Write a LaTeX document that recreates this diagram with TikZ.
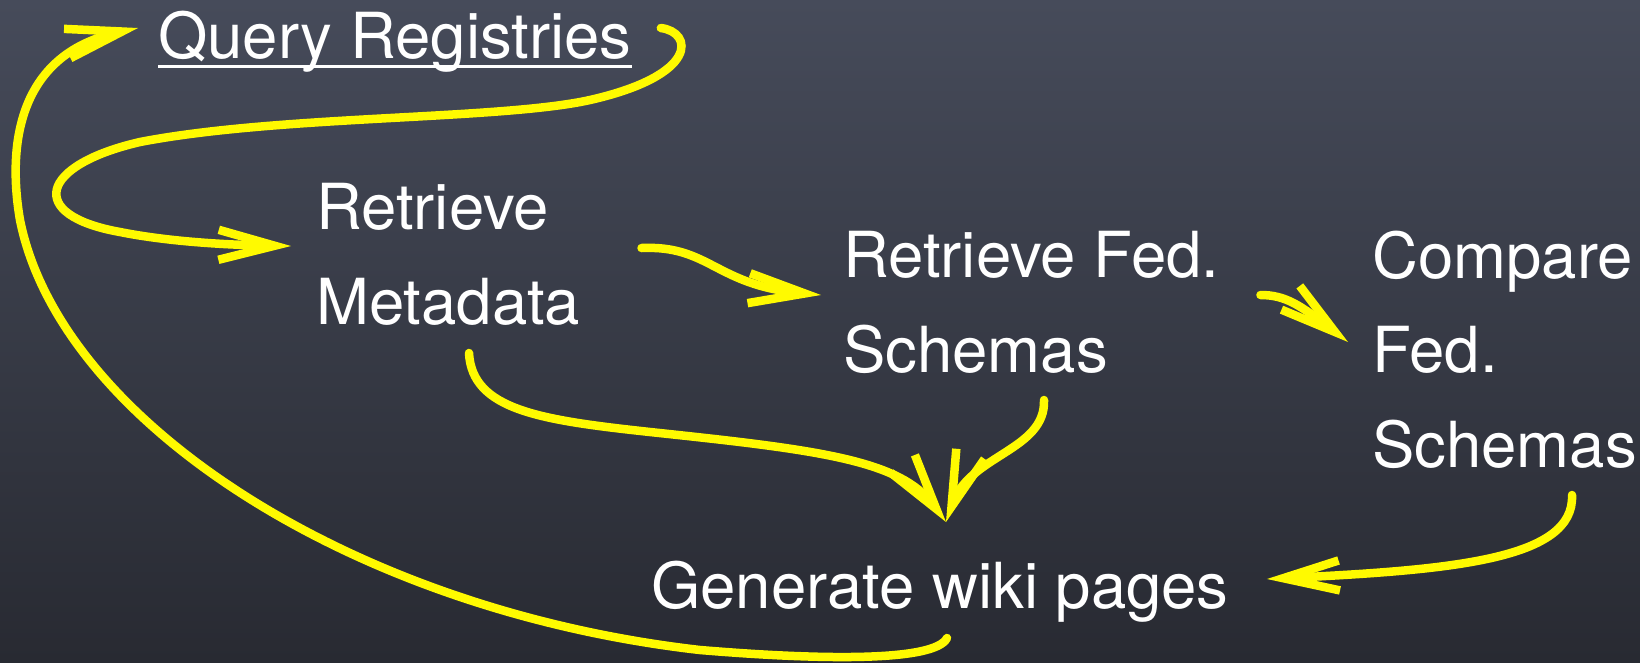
\documentclass[tikz,border=0pt]{standalone}
\usepackage{fontspec}
\setmainfont{TeX Gyre Heros}
\usetikzlibrary{arrows.meta}

\definecolor{boardtop}{RGB}{70,75,90}
\definecolor{boardbot}{RGB}{40,42,50}
\definecolor{chalk}{RGB}{255,250,0}

\begin{document}
\begin{tikzpicture}[x=1pt, y=-1pt, >={Straight Barb[length=56pt,width=30pt]},
  txt/.style={text=white, inner sep=0pt, anchor=base west, align=left,
    font=\fontsize{63.5}{94.5}\selectfont},
  arr/.style={->, draw=chalk, line width=8.5pt, line cap=round}]

% board
\shade[top color=boardtop, bottom color=boardbot] (0,0) rectangle (1640,662);
\useasboundingbox (0,0) rectangle (1640,662);

% base = last line
\node[txt] (reg)  at (158,58)   {Query Registries};
\node[txt] (meta) at (316,324)  {Retrieve\\Metadata};
\node[txt] (fed)  at (843,372)  {Retrieve Fed.\\Schemas};
\node[txt] (cmp)  at (1372,467) {Compare\\Fed.\\Schemas};
\node[txt] (wiki) at (651,608)  {Generate wiki pages};

\draw[white, line width=3.5pt] ([yshift=-8.5pt]reg.base west) -- ([yshift=-8.5pt]reg.base east);

% loops
\draw[arr] ([shift={(29,-30)}]reg.base east) .. controls +(32,4) and (700,75) .. (590,100)
  .. controls (500,120) and (280,115) .. (140,142)
  .. controls (40,165) and (25,215) .. (120,232)
  .. controls (170,242) and (230,245) .. ([shift={(-25,-78)}]meta.base west);
\draw[arr] ([shift={(61,-76)}]meta.base east) .. controls +(68,-3) and (715,285) .. ([shift={(-22,-77)}]fed.base west);
\draw[arr] ([shift={(153,29)}]meta.base west) .. controls +(3,57) and (540,420) .. (650,432)
  .. controls (820,450) and (900,460) .. ([shift={(295,-86)}]wiki.base west);
\draw[arr] ([shift={(201,28)}]fed.base west) .. controls +(2,50) and +(24,-67) .. ([shift={(295,-86)}]wiki.base west);
\draw[arr] ([shift={(41,-77)}]fed.base east) .. controls +(25,0) and +(-48,-37) .. ([shift={(-24,-125)}]cmp.base west);
\draw[arr] ([shift={(200,28)}]cmp.base west) .. controls +(3,65) and +(183,-9) .. ([shift={(38,-29)}]wiki.base east);
\draw[arr] ([shift={(296,30)}]wiki.base west) .. controls +(-12,24) and (820,660) .. (700,650)
  .. controls (350,610) and (60,420) .. (20,220)
  .. controls (8,150) and (15,55) .. ([shift={(-20,-30)}]reg.base west);

\end{tikzpicture}
\end{document}
